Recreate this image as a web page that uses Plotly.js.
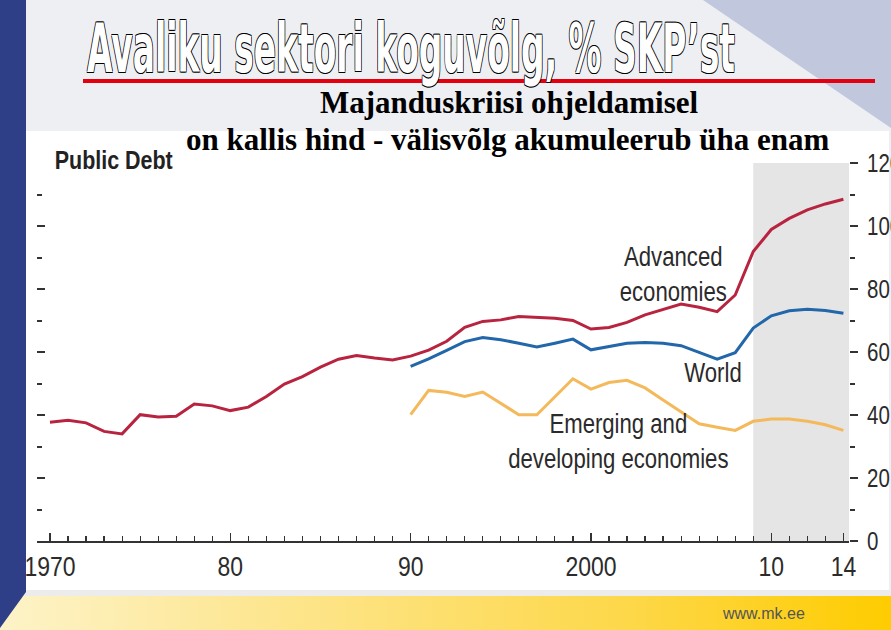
<!DOCTYPE html>
<html>
<head>
<meta charset="utf-8">
<script src="https://cdn.plot.ly/plotly-3.0.1.min.js"></script>
<style>
  html, body { margin:0; padding:0; width:891px; height:630px; overflow:hidden; }
  body { position:relative; background:#eeeff3; }
  .bg { position:absolute; }
  #diag { left:0; top:0; width:891px; height:630px;
          background:#c1c7dd; clip-path: polygon(703px 0, 891px 0, 891px 128px); }
  #stripe { left:0; top:0; width:26px; height:630px; background:#2e3f87;
            clip-path: polygon(0 0, 26px 0, 26px 592px, 0 628px); }
  #white { left:25px; top:131px; width:864px; height:459px; background:#ffffff; }
  #strip { left:25px; top:590px; width:866px; height:6px; background:#ececec; }
  #band { left:0; top:596px; width:891px; height:34px;
          background: linear-gradient(90deg, #fdf3c8 0%, #fde487 35%, #fdd84a 70%, #fecc00 100%);
          clip-path: polygon(20px 0, 891px 0, 891px 34px, 0 34px, 0 32px); }
  #chart { position:absolute; left:0; top:0; width:891px; height:630px; }
</style>
</head>
<body>
<div class="bg" id="diag"></div>
<div class="bg" id="white"></div>
<div class="bg" id="strip"></div>
<div class="bg" id="band"></div>
<div class="bg" id="stripe"></div>
<div id="chart"></div>
<script>
// ---- data ----
const yearsAdvanced = [1970,1971,1972,1973,1974,1975,1976,1977,1978,1979,
  1980,1981,1982,1983,1984,1985,1986,1987,1988,1989,
  1990,1991,1992,1993,1994,1995,1996,1997,1998,1999,
  2000,2001,2002,2003,2004,2005,2006,2007,2008,2009,
  2010,2011,2012,2013,2014];
const advanced = [37.7,38.3,37.5,34.8,34.0,40.1,39.4,39.6,43.5,42.9,
  41.4,42.5,45.9,49.8,52.2,55.2,57.7,58.9,58.1,57.5,
  58.7,60.6,63.4,67.8,69.7,70.2,71.3,70.9,70.7,70.0,
  67.3,67.8,69.4,71.8,73.4,75.2,74.2,72.8,78.1,91.9,
  98.9,102.4,105.1,107.0,108.5];
const yearsRecent = [1990,1991,1992,1993,1994,1995,1996,1997,1998,1999,
  2000,2001,2002,2003,2004,2005,2006,2007,2008,2009,
  2010,2011,2012,2013,2014];
const world = [55.4,57.8,60.5,63.3,64.6,63.9,62.8,61.6,62.8,64.1,
  60.7,61.7,62.8,63.0,62.8,62.0,59.8,57.7,59.8,67.6,
  71.5,73.1,73.6,73.2,72.3];
const emerging = [40.1,47.8,47.2,45.9,47.3,43.8,40.1,40.1,45.9,51.5,
  48.2,50.3,51.0,48.6,44.8,40.9,37.2,36.1,35.1,38.0,
  38.7,38.7,38.0,36.9,35.1];
const projectionStart = 2009;
const xTickVals = [1970,1980,1990,2000,2010,2014];
const xTickText = ['1970','80','90','2000','10','14'];
const yTickVals = [0,20,40,60,80,100,120];
const yTickText = ['0','20','40','60','80','100','120'];

// ---- layout geometry ----
const W = 891, H = 630, L = 37, R = 42, T = 163, B = 89;
const PW = W - L - R, PH = H - T - B;
const px = p => (p - L) / PW;
const py = p => (H - B - p) / PH;
const xRange = [1969.28, 2014.31];
const yRange = [0, 120];

const SANS = '"Liberation Sans", Arial, sans-serif';
const TXT = '#2b2b2b';

const traces = [
  {x: yearsAdvanced, y: advanced, type:'scatter', mode:'lines', name:'Advanced economies',
   line:{color:'#b8243f', width:3}},
  {x: yearsRecent, y: world, type:'scatter', mode:'lines', name:'World',
   line:{color:'#2167a9', width:3}},
  {x: yearsRecent, y: emerging, type:'scatter', mode:'lines', name:'Emerging and developing economies',
   line:{color:'#f4b95b', width:3}, yaxis:'y2'}
];

const layout = {
  width: W, height: H, autosize:false,
  margin: {l:L, r:R, t:T, b:B, pad:0},
  paper_bgcolor:'rgba(0,0,0,0)', plot_bgcolor:'rgba(0,0,0,0)',
  showlegend:false,
  title: {
    text: 'Avaliku sektori koguvõlg, % SKP’st',
    xref:'container', yref:'container', x: 411/W, y: 1 - 49/H,
    xanchor:'center', yanchor:'middle',
    font: {family:'"DejaVu Sans", sans-serif', size:67, color:'#ffffff', weight:'bold',
           shadow:'-1px -1px 0 #000, 1px -1px 0 #000, -1px 1px 0 #000, 1px 1px 0 #000'}
  },
  xaxis: {
    range:xRange, showgrid:false, zeroline:false,
    showline:true, linecolor:'#333', linewidth:1.5,
    ticks:'inside', ticklen:8, tickwidth:1.5, tickcolor:'#333',
    tickvals:xTickVals, ticktext:xTickText,
    tickfont:{family:SANS, size:28, color:TXT},
    ticklabelstandoff: 0,
    minor:{dtick:1, ticks:'inside', ticklen:5, tickwidth:1.2, tickcolor:'#333', showgrid:false},
    fixedrange:true
  },
  yaxis: {
    range:yRange, showgrid:false, zeroline:false, showline:false,
    ticks:'inside', ticklen:8, tickwidth:2, tickcolor:'#333',
    tickvals:yTickVals, showticklabels:false,
    minor:{dtick:10, ticks:'inside', ticklen:5, tickwidth:2, tickcolor:'#333', showgrid:false},
    fixedrange:true
  },
  yaxis2: {
    overlaying:'y', side:'right', anchor:'x',
    range:yRange, showgrid:false, zeroline:false, showline:false,
    ticks:'outside', ticklen:8, tickwidth:2, tickcolor:'#333',
    tickvals:yTickVals, ticktext:yTickText,
    tickfont:{family:SANS, size:25, color:TXT},
    ticklabelstandoff: 4,
    minor:{dtick:10, ticks:'outside', ticklen:5, tickwidth:2, tickcolor:'#333', showgrid:false},
    fixedrange:true
  },
  shapes: [
    {type:'rect', xref:'x', yref:'y', x0:projectionStart, x1:xRange[1], y0:yRange[0], y1:yRange[1],
     fillcolor:'#e5e5e5', line:{width:0}, layer:'below'},
    {type:'line', xref:'paper', yref:'paper', x0:px(83), x1:px(875), y0:py(81), y1:py(81),
     line:{color:'#e3000f', width:4}}
  ],
  annotations: [
    {text:'Majanduskriisi ohjeldamisel', xref:'paper', yref:'paper', x:px(509), y:py(102),
     xanchor:'center', yanchor:'middle', showarrow:false,
     font:{family:'"Liberation Serif", "Times New Roman", serif', size:31, color:'#000', weight:'bold'}},
    {text:'on kallis hind - välisvõlg akumuleerub üha enam', xref:'paper', yref:'paper', x:px(508), y:py(140),
     xanchor:'center', yanchor:'middle', showarrow:false,
     font:{family:'"Liberation Serif", "Times New Roman", serif', size:31, color:'#000', weight:'bold'}},
    {text:'Public Debt', xref:'paper', yref:'paper', x:px(114), y:py(160),
     xanchor:'center', yanchor:'middle', showarrow:false,
     font:{family:SANS, size:25, color:'#222', weight:'bold'}},
    {text:'Advanced<br>economies', xref:'paper', yref:'paper', x:px(673), y:py(274),
     xanchor:'center', yanchor:'middle', showarrow:false, align:'center',
     font:{family:SANS, size:27, color:TXT}},
    {text:'World', xref:'paper', yref:'paper', x:px(713), y:py(373),
     xanchor:'center', yanchor:'middle', showarrow:false,
     font:{family:SANS, size:27, color:TXT}},
    {text:'Emerging and<br>developing economies', xref:'paper', yref:'paper', x:px(618), y:py(441),
     xanchor:'center', yanchor:'middle', showarrow:false, align:'center',
     font:{family:SANS, size:27, color:TXT}},
    {text:'www.mk.ee', xref:'paper', yref:'paper', x:px(763), y:py(613),
     xanchor:'center', yanchor:'middle', showarrow:false,
     font:{family:SANS, size:16, color:'#555'}}
  ]
};

// squeeze text horizontally (narrow typeface look) while keeping it real text
function squeeze(el, factor, fixed) {
  const parts = el.querySelectorAll('tspan.line');
  const targets = parts.length ? Array.from(parts) : [el];
  targets.forEach(t => {
    const w = t.getComputedTextLength();
    if (!w) return;
    t.setAttribute('textLength', fixed ? fixed : (w * factor).toFixed(1));
    t.setAttribute('lengthAdjust', 'spacingAndGlyphs');
  });
}

Plotly.newPlot('chart', traces, layout, {displayModeBar:false, staticPlot:true}).then(gd => {
  const title = gd.querySelector('.gtitle');
  if (title) squeeze(title, 1, 648);
  gd.querySelectorAll('.xtick text, .y2tick text').forEach(t => squeeze(t, 0.82));
  gd.querySelectorAll('.annotation-text').forEach(t => {
    const s = t.textContent;
    if (s.indexOf('Majanduskriisi') === 0 || s.indexOf('on kallis') === 0) return;
    if (s.indexOf('www') === 0) return;
    if (s.indexOf('Public') === 0) { squeeze(t, 1, 118); return; }
    squeeze(t, 0.82);
  });
});
</script>
</body>
</html>
